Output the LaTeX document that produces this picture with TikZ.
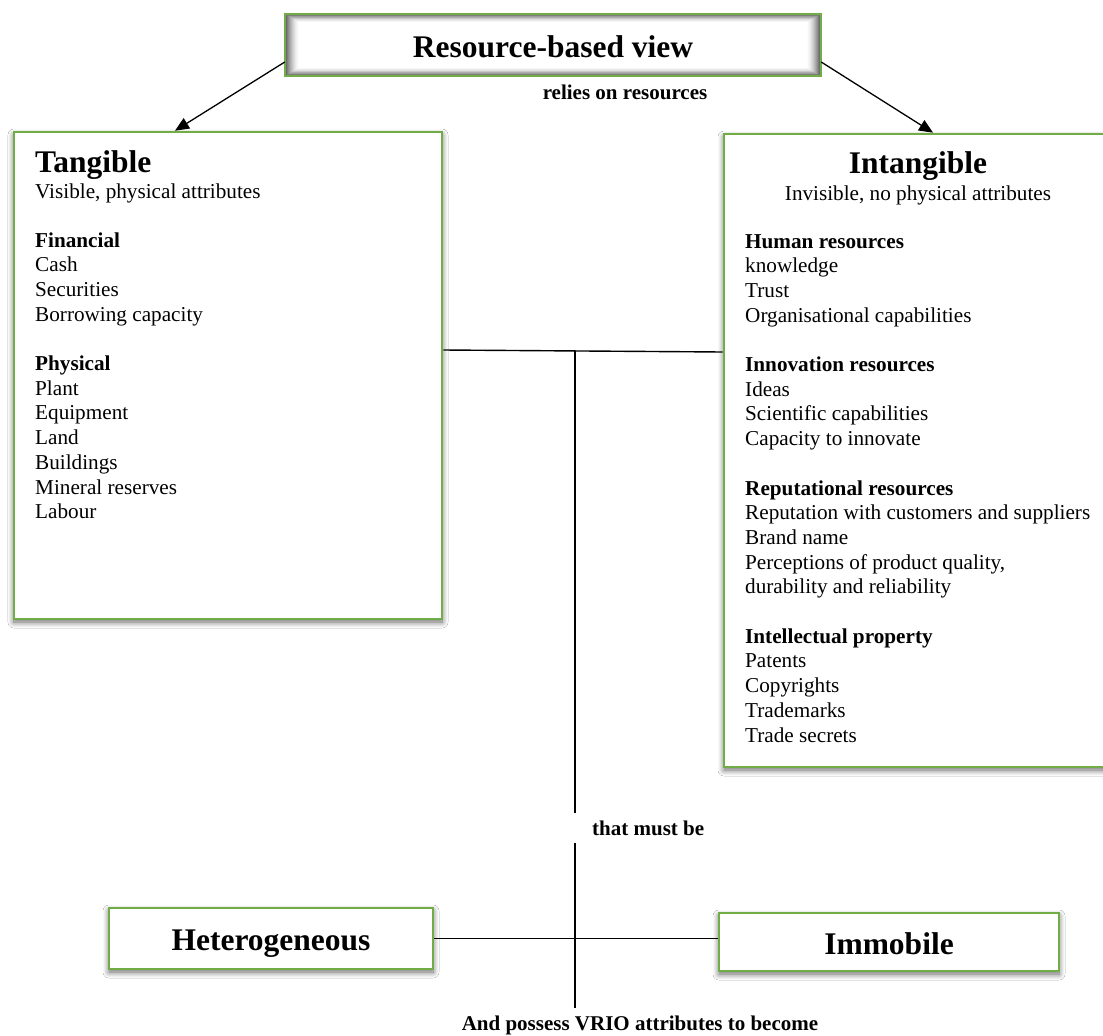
\documentclass[tikz,border=0pt]{standalone}
\usepackage{fontspec}
\setmainfont{Liberation Serif}
\usetikzlibrary{shadows.blur,arrows.meta}
\definecolor{rgreen}{HTML}{70AD47}
\newcommand\bodyfont{\fontsize{21.2}{24.7}\selectfont}
\newcommand\bigfont{\fontsize{31.5}{36}\selectfont\bfseries}
\newcommand\lblfont{\fontsize{21}{24.7}\selectfont\bfseries}
\begin{document}
\begin{tikzpicture}[x=1pt,y=-1pt,
  gbox/.style={draw=rgreen, line width=2.6pt, fill=white, inner sep=0pt, rectangle,
    blur shadow={shadow xshift=0pt, shadow yshift=-3pt, shadow blur radius=6pt, shadow blur steps=8, shadow opacity=60}},
  txt/.style={inner sep=0pt, font=\bodyfont},
  big/.style={inner sep=0pt, font=\bigfont},
  lbl/.style={inner sep=0pt, font=\lblfont},
  conn/.style={draw=black, line width=1.4pt},
  arr/.style={draw=black, line width=1.3pt, -{Triangle[length=14pt,width=12pt]}}]
\useasboundingbox (0,0) rectangle (1103,1036);
\clip (0,0) rectangle (1103,1036);
\fill[white] (0,0) rectangle (1103,1036);

% top box with inner shadow
\node[draw=none, minimum width=536pt, minimum height=62pt, inner sep=0pt] (top) at (553,45) {};
\foreach \i in {0,...,14}{
  \pgfmathsetmacro\c{65*(1-\i/14)^1.6}
  \fill[black!\c] ({285+\i},{14+0.6*\i}) rectangle ({821-\i},{76-0.6*\i});
}
\draw[rgreen, line width=2.6pt] (285,14) rectangle (821,76);
\node[big, anchor=base] (toptxt) at (553,57) {Resource-based view};
\node[lbl, anchor=base] (relies) at (625,99) {relies on resources};

% tangible
\node[gbox, minimum width=428pt, minimum height=487pt] (tang) at (228,375.5) {};
\node[big, anchor=base west] (tangt) at (35,172) {Tangible};
\node[txt, anchor=base west] (tangs) at (35,198) {Visible, physical attributes};
\node[txt, anchor=base west] (tangb) at (35,247) {\bodyfont\begin{tabular}[t]{@{}l@{}}
\textbf{Financial}\\Cash\\Securities\\Borrowing capacity\\ \\
\textbf{Physical}\\Plant\\Equipment\\Land\\Buildings\\Mineral reserves\\Labour
\end{tabular}};

% intangible
\node[gbox, minimum width=389pt, minimum height=633pt] (intang) at (918.5,450.5) {};
\node[big, anchor=base] (intt) at (918,173.5) {Intangible};
\node[txt, anchor=base] (ints) at (918,200) {Invisible, no physical attributes};
\node[txt, anchor=base west] (intb) at (745,248) {\bodyfont\begin{tabular}[t]{@{}l@{}}
\textbf{Human resources}\\knowledge\\Trust\\Organisational capabilities\\ \\
\textbf{Innovation resources}\\Ideas\\Scientific capabilities\\Capacity to innovate\\ \\
\textbf{Reputational resources}\\Reputation with customers and suppliers\\Brand name\\Perceptions of product quality,\\durability and reliability\\ \\
\textbf{Intellectual property}\\Patents\\Copyrights\\Trademarks\\Trade secrets
\end{tabular}};

% bottom boxes
\node[gbox, minimum width=324pt, minimum height=61pt] (het) at (271,938.5) {};
\node[big, anchor=base] (hett) at (271,950) {Heterogeneous};
\node[gbox, minimum width=340pt, minimum height=58pt] (imm) at (889,942) {};
\node[big, anchor=base] (immt) at (889,954) {Immobile};

% arrows
\draw[arr] (top.west |- 0,62) -- (tang.north -| 175,0);
\draw[arr] (top.east |- 0,62) -- (intang.north -| 933,0);

% connectors
\draw[conn] (tang.east |- 0,350) -- (intang.west |- 0,352);
\coordinate (j) at (575,351);
\coordinate (v1) at (575,813);
\coordinate (v2) at (575,843);
\coordinate (v3) at (575,1008);
\draw[conn] (j) -- (v1);
\draw[conn] (v2) -- (v3);
\node[lbl, anchor=base west] (must) at (592,835) {that must be};
\draw[conn] (het.east) -- (imm.west |- het.east);
\node[lbl, anchor=base] (vrio) at (640,1030) {And possess VRIO attributes to become};
\end{tikzpicture}
\end{document}
